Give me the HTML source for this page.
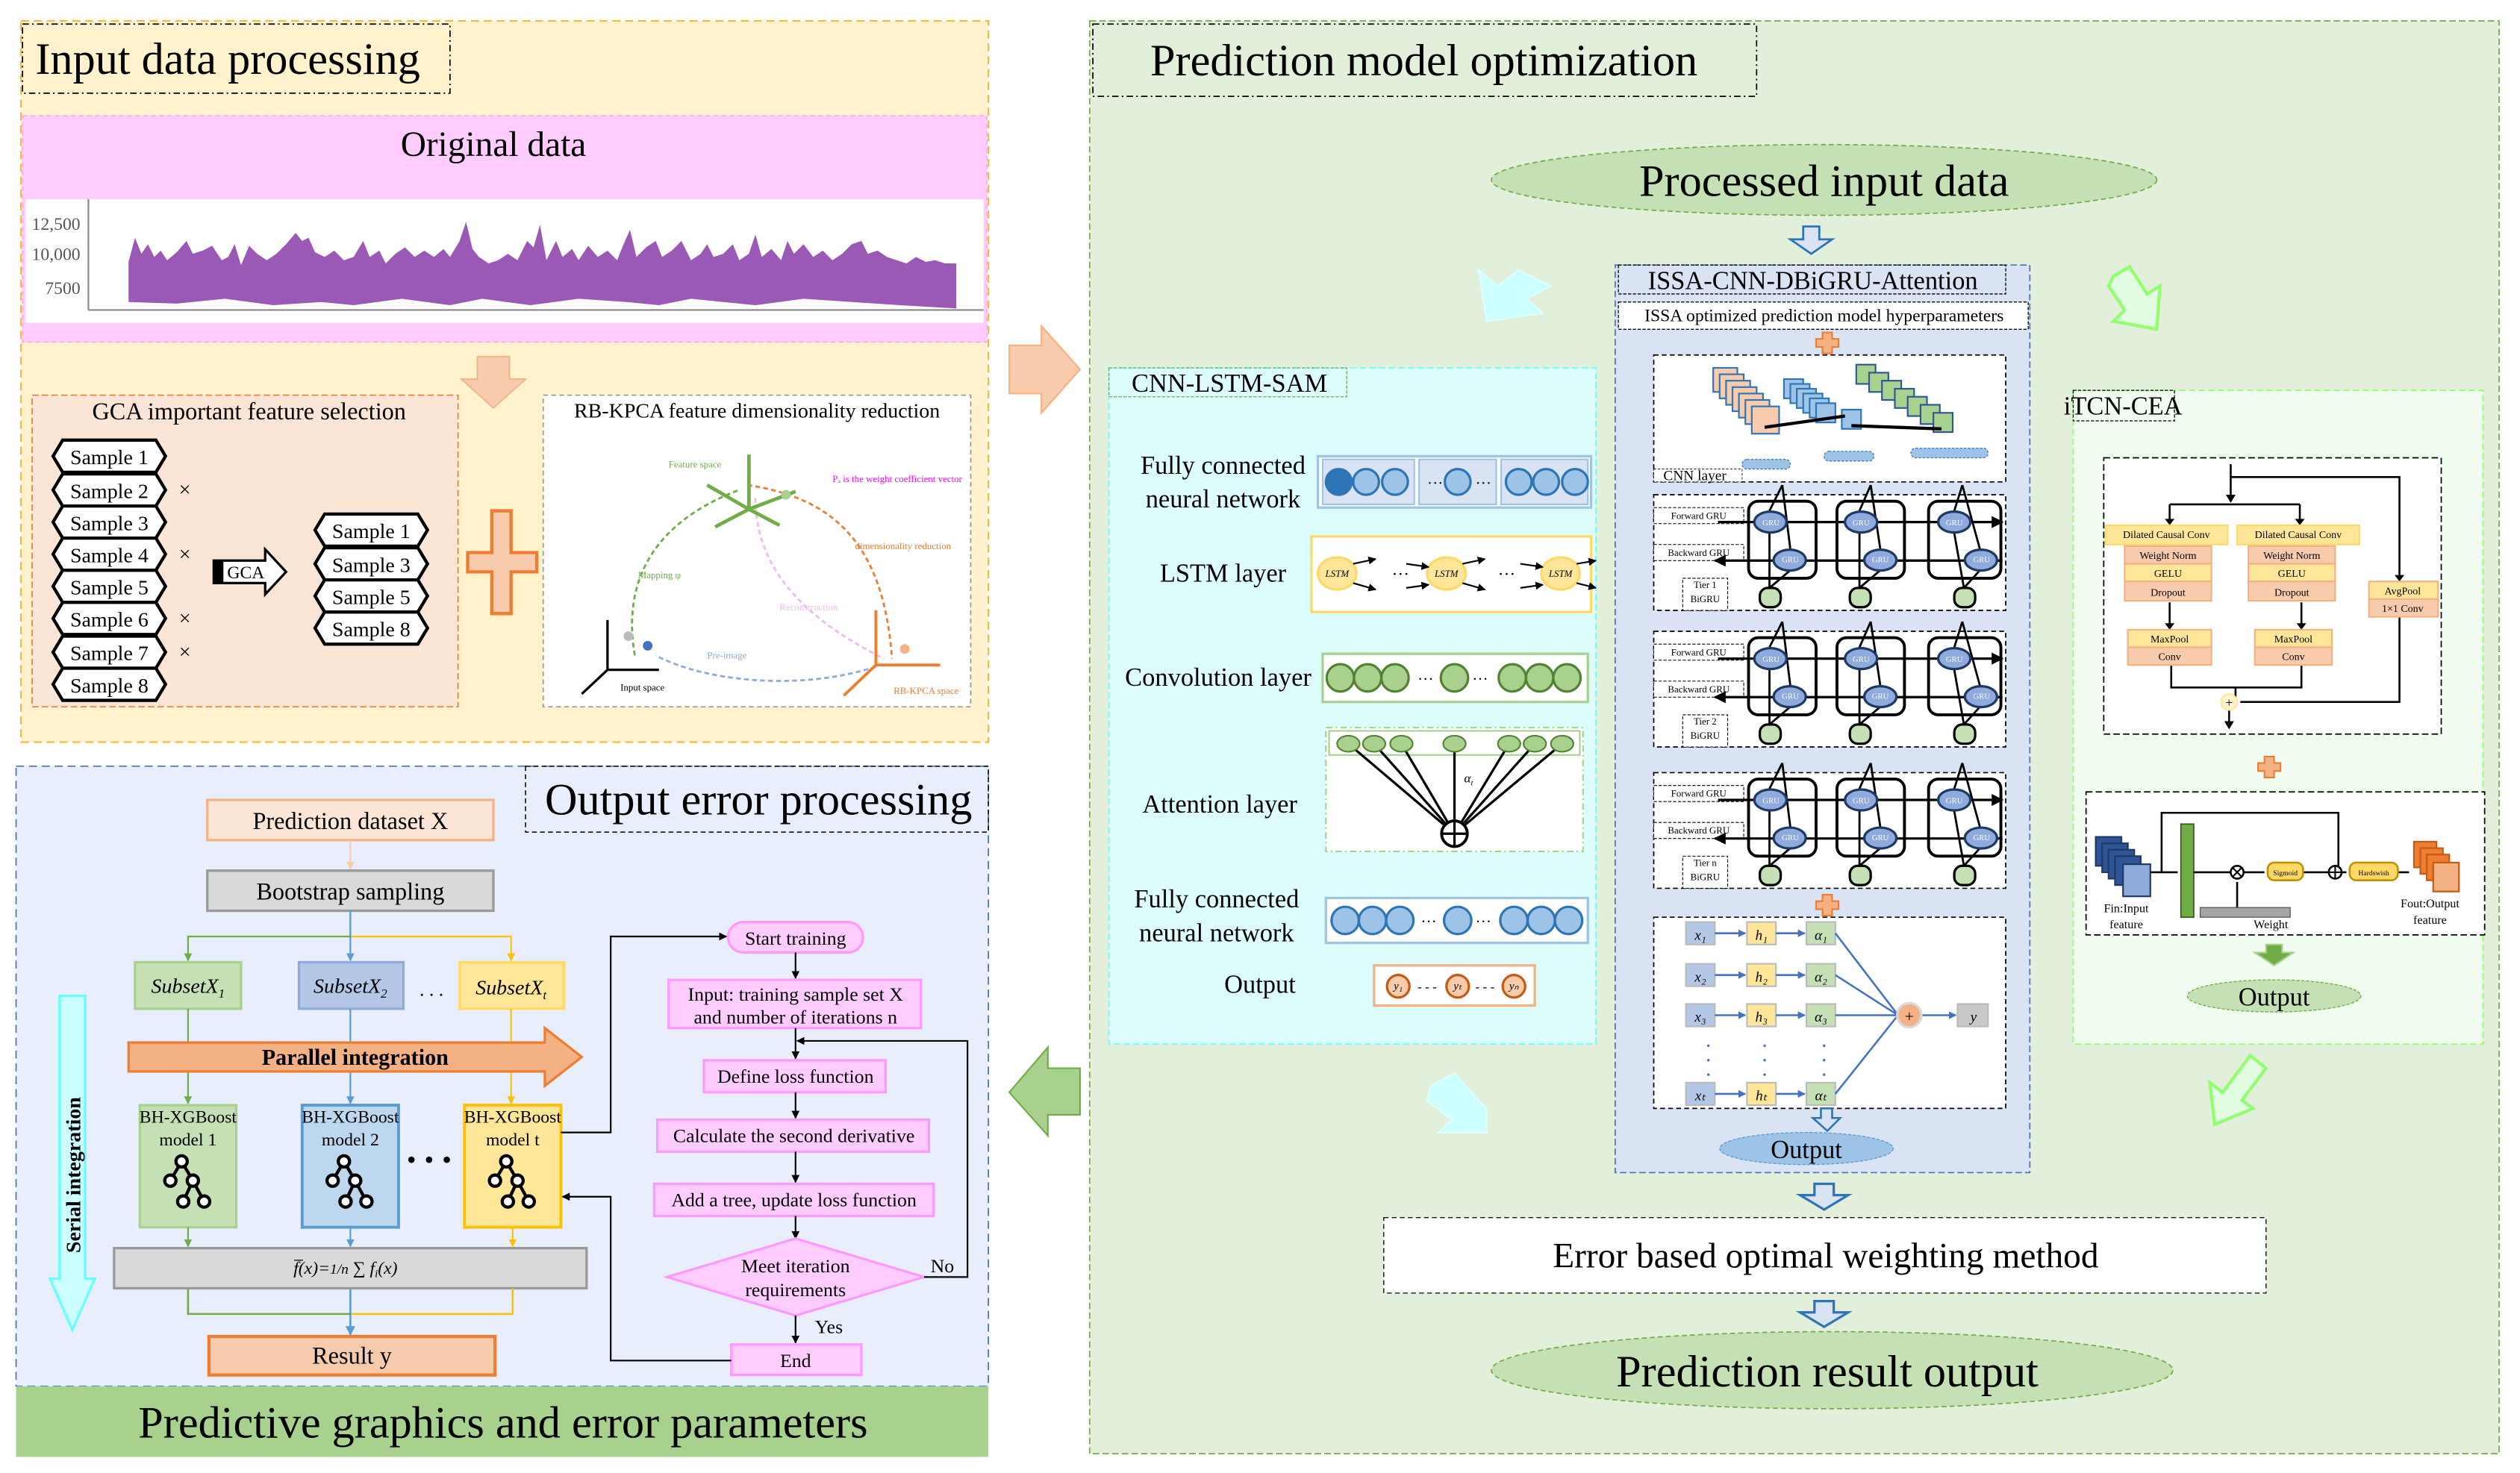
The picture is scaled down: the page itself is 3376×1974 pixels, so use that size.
<!DOCTYPE html>
<html><head><meta charset="utf-8"><style>
html,body{margin:0;padding:0;background:#fff;}
svg{display:block;}
text{font-family:"Liberation Serif",serif;}
</style></head><body>
<svg xmlns="http://www.w3.org/2000/svg" width="3376" height="1974" viewBox="0 0 1568 917" preserveAspectRatio="none">
<defs>
<marker id="ak" viewBox="0 0 10 10" refX="9" refY="5" markerWidth="5" markerHeight="5" orient="auto"><path d="M0,0L10,5L0,10z" fill="#000"/></marker>
<marker id="ag" viewBox="0 0 10 10" refX="9" refY="5" markerWidth="5" markerHeight="5" orient="auto"><path d="M0,0L10,5L0,10z" fill="#70ad47"/></marker>
<marker id="ab" viewBox="0 0 10 10" refX="9" refY="5" markerWidth="5" markerHeight="5" orient="auto"><path d="M0,0L10,5L0,10z" fill="#5b9bd5"/></marker>
<marker id="ay" viewBox="0 0 10 10" refX="9" refY="5" markerWidth="5" markerHeight="5" orient="auto"><path d="M0,0L10,5L0,10z" fill="#ffc000"/></marker>
<marker id="ao" viewBox="0 0 10 10" refX="9" refY="5" markerWidth="5" markerHeight="5" orient="auto"><path d="M0,0L10,5L0,10z" fill="#f8cbad"/></marker>
<marker id="ab2" viewBox="0 0 10 10" refX="9" refY="5" markerWidth="4" markerHeight="4" orient="auto"><path d="M0,0L10,5L0,10z" fill="#4472c4"/></marker>
<g id="tier">
<rect x="0" y="0" width="219" height="72" fill="#fff" stroke="#000" stroke-width="0.8" stroke-dasharray="3,2"/>
<rect x="0" y="8" width="56" height="10" fill="#fff" stroke="#000" stroke-width="0.5" stroke-dasharray="2,1"/>
<rect x="0" y="31" width="56" height="10" fill="#fff" stroke="#000" stroke-width="0.5" stroke-dasharray="2,1"/>
<rect x="18" y="52" width="28" height="20" fill="#fff" stroke="#000" stroke-width="0.5" stroke-dasharray="2,1"/>
<rect x="59" y="4" width="42" height="48" rx="6" fill="none" stroke="#000" stroke-width="1.8"/>
<rect x="114" y="4" width="42" height="48" rx="6" fill="none" stroke="#000" stroke-width="1.8"/>
<rect x="171" y="4" width="45" height="48" rx="6" fill="none" stroke="#000" stroke-width="1.8"/>
<line x1="40" y1="17" x2="217" y2="17" stroke="#000" stroke-width="1.5" marker-end="url(#ak)"/>
<line x1="217" y1="41" x2="38" y2="41" stroke="#000" stroke-width="1.5" marker-end="url(#ak)"/>
<path d="M80,-6L72,10M80,-6L85,34M72,24L72,58M85,47L72,58M135,-6L128,10M135,-6L141,34M128,24L128,58M141,47L128,58M192,-6L187,10M192,-6L203,34M187,24L193,58M203,47L193,58" stroke="#000" stroke-width="1.3" fill="none"/>
<ellipse cx="72.6" cy="17" rx="10" ry="6.5" fill="#8faadc" stroke="#1f3864" stroke-width="1.5"/>
<ellipse cx="84.6" cy="40.7" rx="10" ry="6.5" fill="#8faadc" stroke="#1f3864" stroke-width="1.5"/>
<ellipse cx="129" cy="17" rx="10" ry="6.5" fill="#8faadc" stroke="#1f3864" stroke-width="1.5"/>
<ellipse cx="141" cy="40.7" rx="10" ry="6.5" fill="#8faadc" stroke="#1f3864" stroke-width="1.5"/>
<ellipse cx="187" cy="17" rx="10" ry="6.5" fill="#8faadc" stroke="#1f3864" stroke-width="1.5"/>
<ellipse cx="203.6" cy="40.7" rx="10" ry="6.5" fill="#8faadc" stroke="#1f3864" stroke-width="1.5"/>
<rect x="66" y="58" width="13" height="12" rx="5" fill="#c5e0b4" stroke="#000" stroke-width="1.5"/>
<rect x="122" y="58" width="13" height="12" rx="5" fill="#c5e0b4" stroke="#000" stroke-width="1.5"/>
<rect x="187" y="58" width="13" height="12" rx="5" fill="#c5e0b4" stroke="#000" stroke-width="1.5"/>
</g>
</defs>

<!-- ================= INPUT DATA PROCESSING ================= -->
<rect x="13" y="13" width="602" height="449" fill="#fff2cc" stroke="#f5b942" stroke-width="1" stroke-dasharray="5,3"/>
<rect x="14" y="15" width="266" height="43" fill="none" stroke="#000" stroke-width="0.8" stroke-dasharray="4,2,1,2"/>
<text x="22" y="46" font-size="28">Input data processing</text>
<rect x="14" y="72" width="600" height="141" fill="#ffccff" stroke="#ff99ff" stroke-width="0.6" stroke-dasharray="3,2"/>
<text x="307" y="97" font-size="22" text-anchor="middle">Original data</text>
<rect x="16" y="124" width="596" height="77" fill="#fff"/>
<line x1="55" y1="124" x2="55" y2="193" stroke="#888" stroke-width="1"/>
<line x1="55" y1="193" x2="612" y2="193" stroke="#888" stroke-width="1"/>
<text x="50" y="143" font-size="11" text-anchor="end" fill="#555" font-family="Liberation Sans">12,500</text>
<text x="50" y="162" font-size="11" text-anchor="end" fill="#555" font-family="Liberation Sans">10,000</text>
<text x="50" y="183" font-size="11" text-anchor="end" fill="#555" font-family="Liberation Sans">7500</text>
<polygon fill="#9b59b6" points="80,163 84,148 88,158 92,152 96,160 100,156 104,162 110,157 116,150 120,158 126,156 132,153 138,162 142,160 146,152 150,165 155,153 160,158 166,162 172,158 178,152 184,145 188,150 192,148 196,157 202,160 208,156 214,162 220,160 226,150 230,160 236,156 240,164 246,158 252,154 258,160 264,156 270,160 276,155 280,160 286,150 290,138 294,155 298,160 304,164 310,162 316,158 322,162 328,150 332,154 336,140 340,162 346,150 350,160 356,155 360,162 366,153 372,160 378,156 384,162 388,152 392,143 396,160 402,154 408,150 412,160 418,156 424,150 430,162 436,158 440,152 444,160 450,158 456,152 460,162 466,158 470,146 474,160 480,155 486,162 490,150 494,158 500,152 506,160 512,156 518,162 524,158 530,152 536,150 540,158 546,156 552,160 558,162 564,164 570,160 576,163 582,162 588,164 595,164 595,192 560,190 530,188 500,186 470,190 450,188 430,186 410,190 390,188 360,186 330,190 300,186 280,190 250,186 220,190 200,188 170,190 140,186 110,189 80,188"/>
<!-- down arrow -->
<polygon points="297,222 317,222 317,236 327,236 307,254 287,236 297,236" fill="#f8cbad" stroke="#f4b183" stroke-width="0.8"/>
<!-- GCA box -->
<rect x="20" y="246" width="265" height="194" fill="#fbe5d6" stroke="#ed7d31" stroke-width="0.8" stroke-dasharray="4,2"/>
<text x="155" y="261" font-size="15" text-anchor="middle">GCA important feature selection</text>
<g stroke="#000" stroke-width="2" fill="#fff">
<polygon points="39,274 97,274 103,284 97,294 39,294 33,284"/>
<polygon points="39,295 97,295 103,305 97,315 39,315 33,305"/>
<polygon points="39,315 97,315 103,325 97,335 39,335 33,325"/>
<polygon points="39,335 97,335 103,345 97,355 39,355 33,345"/>
<polygon points="39,355 97,355 103,365 97,375 39,375 33,365"/>
<polygon points="39,375 97,375 103,385 97,395 39,395 33,385"/>
<polygon points="39,396 97,396 103,406 97,416 39,416 33,406"/>
<polygon points="39,416 97,416 103,426 97,436 39,436 33,426"/>
<polygon points="202,320 260,320 266,330 260,340 202,340 196,330"/>
<polygon points="202,341 260,341 266,351 260,361 202,361 196,351"/>
<polygon points="202,361 260,361 266,371 260,381 202,381 196,371"/>
<polygon points="202,381 260,381 266,391 260,401 202,401 196,391"/>
</g>
<g font-size="13" text-anchor="middle">
<text x="68" y="289">Sample 1</text><text x="68" y="310">Sample 2</text><text x="68" y="330">Sample 3</text><text x="68" y="350">Sample 4</text>
<text x="68" y="370">Sample 5</text><text x="68" y="390">Sample 6</text><text x="68" y="411">Sample 7</text><text x="68" y="431">Sample 8</text>
<text x="231" y="335">Sample 1</text><text x="231" y="356">Sample 3</text><text x="231" y="376">Sample 5</text><text x="231" y="396">Sample 8</text>
<text x="115" y="309">×</text><text x="115" y="349">×</text><text x="115" y="389">×</text><text x="115" y="410">×</text>
</g>
<polygon points="133,349 165,349 165,342 178,356 165,370 165,363 133,363" fill="#fff" stroke="#000" stroke-width="1.5"/>
<rect x="133" y="349" width="6" height="14" fill="#000"/>
<text x="153" y="360" font-size="11" text-anchor="middle" font-family="Liberation Sans">GCA</text>
<!-- orange plus -->
<path d="M306,318H318V344H334V356H318V382H306V356H291V344H306Z" fill="#f8cbad" stroke="#ed7d31" stroke-width="2"/>
<!-- RB-KPCA -->
<rect x="338" y="246" width="266" height="194" fill="#fff" stroke="#999" stroke-width="0.8" stroke-dasharray="3,2"/>
<text x="471" y="260" font-size="13" text-anchor="middle">RB-KPCA feature dimensionality reduction</text>
<g fill="none" stroke-width="1.3">
<path d="M395,408 C385,350 420,320 460,305" stroke="#70ad47" stroke-dasharray="3,2"/>
<path d="M465,302 C520,310 550,340 555,410" stroke="#ed7d31" stroke-dasharray="3,2"/>
<path d="M470,310 C470,360 510,390 550,410" stroke="#f4b8f4" stroke-dasharray="3,2"/>
<path d="M545,415 C500,430 440,425 408,408" stroke="#8faadc" stroke-dasharray="3,2"/>
</g>
<g stroke="#70ad47" stroke-width="2.2"><line x1="466" y1="317" x2="466" y2="283"/><line x1="466" y1="317" x2="440" y2="302"/><line x1="466" y1="317" x2="495" y2="306"/><line x1="466" y1="317" x2="445" y2="328"/><line x1="466" y1="317" x2="485" y2="327"/></g>
<g stroke="#ed7d31" stroke-width="1.8"><line x1="545" y1="414" x2="545" y2="380"/><line x1="545" y1="414" x2="585" y2="414"/><line x1="545" y1="414" x2="525" y2="433"/></g>
<g stroke="#000" stroke-width="1.5"><line x1="378" y1="417" x2="378" y2="386"/><line x1="378" y1="417" x2="410" y2="417"/><line x1="378" y1="417" x2="362" y2="432"/></g>
<circle cx="391" cy="396" r="3" fill="#bbb"/><circle cx="403" cy="402" r="3" fill="#4472c4"/><circle cx="489" cy="308" r="3" fill="#a9d18e"/><circle cx="563" cy="404" r="3" fill="#f4b183"/>
<g font-size="6">
<text x="416" y="291" fill="#70ad47">Feature space</text><text x="518" y="300" fill="#ff00ff">Pₐ is the weight coefficient vector</text>
<text x="397" y="360" fill="#70ad47">Mapping φ</text><text x="532" y="342" fill="#ed7d31">dimensionality reduction</text>
<text x="485" y="380" fill="#f4b8f4">Reconstruction</text><text x="440" y="410" fill="#8faadc">Pre-image</text>
<text x="386" y="430">Input space</text><text x="556" y="432" fill="#ed7d31">RB-KPCA space</text>
</g>

<!-- ================= OUTPUT ERROR PROCESSING ================= -->
<rect x="10" y="477" width="605" height="386" fill="#e8eefc" stroke="#4472c4" stroke-width="0.8" stroke-dasharray="5,3"/>
<rect x="327" y="477" width="288" height="41" fill="none" stroke="#000" stroke-width="0.7" stroke-dasharray="3,2"/>
<text x="472" y="507" font-size="28" text-anchor="middle">Output error processing</text>
<rect x="10" y="863" width="605" height="44" fill="#a9d18e"/>
<text x="313" y="895" font-size="28" text-anchor="middle">Predictive graphics and error parameters</text>

<rect x="129" y="498" width="178" height="25" fill="#fbe5d6" stroke="#f4b183" stroke-width="1.5"/>
<text x="218" y="516" font-size="15" text-anchor="middle">Prediction dataset X</text>
<line x1="218" y1="523" x2="218" y2="541" stroke="#f8cbad" stroke-width="1" marker-end="url(#ao)"/>
<rect x="129" y="542" width="178" height="25" fill="#d9d9d9" stroke="#999" stroke-width="1.5"/>
<text x="218" y="560" font-size="15" text-anchor="middle">Bootstrap sampling</text>
<path d="M218,567V583M218,583H117V598" stroke="#70ad47" stroke-width="1" fill="none" marker-end="url(#ag)"/>
<path d="M218,583H318V598" stroke="#ffc000" stroke-width="1" fill="none" marker-end="url(#ay)"/>
<line x1="218" y1="567" x2="218" y2="598" stroke="#5b9bd5" stroke-width="1" marker-end="url(#ab)"/>
<rect x="84" y="599" width="66" height="29" fill="#c5e0b4" stroke="#a9d18e" stroke-width="1.5"/>
<rect x="186" y="599" width="65" height="29" fill="#b4c7e7" stroke="#8faadc" stroke-width="1.5"/>
<rect x="286" y="599" width="65" height="29" fill="#ffe699" stroke="#ffd966" stroke-width="1.5"/>
<g font-size="13" text-anchor="middle" font-style="italic"><text x="117" y="618">SubsetX<tspan font-size="8" dy="3">1</tspan></text><text x="218" y="618">SubsetX<tspan font-size="8" dy="3">2</tspan></text><text x="318" y="619">SubsetX<tspan font-size="8" dy="3">t</tspan></text></g>
<text x="261" y="620" font-size="12">. . .</text>
<line x1="117" y1="628" x2="117" y2="687" stroke="#70ad47" stroke-width="1" marker-end="url(#ag)"/>
<line x1="218" y1="628" x2="218" y2="687" stroke="#5b9bd5" stroke-width="1" marker-end="url(#ab)"/>
<line x1="318" y1="628" x2="318" y2="687" stroke="#ffc000" stroke-width="1" marker-end="url(#ay)"/>
<polygon points="80,649 339,649 339,640 362,658 339,676 339,667 80,667" fill="#f4b183" stroke="#ed7d31" stroke-width="1.5"/>
<text x="221" y="663" font-size="14" font-weight="bold" text-anchor="middle">Parallel integration</text>
<rect x="87" y="688" width="60" height="76" fill="#c5e0b4" stroke="#a9d18e" stroke-width="1.5"/>
<rect x="188" y="688" width="60" height="76" fill="#bdd7ee" stroke="#5b9bd5" stroke-width="1.8"/>
<rect x="289" y="688" width="60" height="76" fill="#ffe699" stroke="#ffc000" stroke-width="1.8"/>
<g font-size="11" text-anchor="middle"><text x="117" y="699">BH-XGBoost</text><text x="117" y="713">model 1</text><text x="218" y="699">BH-XGBoost</text><text x="218" y="713">model 2</text><text x="319" y="699">BH-XGBoost</text><text x="319" y="713">model t</text></g>
<g fill="#fff" stroke="#000" stroke-width="2">
<g transform="translate(117,738)"><line x1="-4" y1="-15" x2="-11" y2="-3" /><line x1="-4" y1="-15" x2="3" y2="-3"/><line x1="3" y1="-3" x2="-3" y2="10"/><line x1="3" y1="-3" x2="10" y2="10"/><circle cx="-4" cy="-15" r="3.5"/><circle cx="-11" cy="-3" r="3.5"/><circle cx="3" cy="-3" r="3.5"/><circle cx="-3" cy="10" r="3.5"/><circle cx="10" cy="10" r="3.5"/></g>
<g transform="translate(218,738)"><line x1="-4" y1="-15" x2="-11" y2="-3" /><line x1="-4" y1="-15" x2="3" y2="-3"/><line x1="3" y1="-3" x2="-3" y2="10"/><line x1="3" y1="-3" x2="10" y2="10"/><circle cx="-4" cy="-15" r="3.5"/><circle cx="-11" cy="-3" r="3.5"/><circle cx="3" cy="-3" r="3.5"/><circle cx="-3" cy="10" r="3.5"/><circle cx="10" cy="10" r="3.5"/></g>
<g transform="translate(319,738)"><line x1="-4" y1="-15" x2="-11" y2="-3" /><line x1="-4" y1="-15" x2="3" y2="-3"/><line x1="3" y1="-3" x2="-3" y2="10"/><line x1="3" y1="-3" x2="10" y2="10"/><circle cx="-4" cy="-15" r="3.5"/><circle cx="-11" cy="-3" r="3.5"/><circle cx="3" cy="-3" r="3.5"/><circle cx="-3" cy="10" r="3.5"/><circle cx="10" cy="10" r="3.5"/></g>
</g>
<g fill="#000"><circle cx="256" cy="722" r="2"/><circle cx="267" cy="722" r="2"/><circle cx="278" cy="722" r="2"/></g>
<line x1="117" y1="764" x2="117" y2="776" stroke="#70ad47" stroke-width="1" marker-end="url(#ag)"/>
<line x1="218" y1="764" x2="218" y2="776" stroke="#5b9bd5" stroke-width="1" marker-end="url(#ab)"/>
<line x1="319" y1="764" x2="319" y2="776" stroke="#ffc000" stroke-width="1" marker-end="url(#ay)"/>
<rect x="71" y="777" width="294" height="25" fill="#d9d9d9" stroke="#999" stroke-width="1.5"/>
<text x="215" y="793" font-size="11" text-anchor="middle" font-style="italic">f̅(x)=<tspan font-size="9">1/n</tspan> ∑ f<tspan font-size="7" dy="2">i</tspan><tspan dy="-2">(x)</tspan></text>
<path d="M117,802V818H218" stroke="#70ad47" stroke-width="1.2" fill="none"/>
<path d="M319,802V818H218" stroke="#ffc000" stroke-width="1.2" fill="none"/>
<line x1="218" y1="802" x2="218" y2="831" stroke="#5b9bd5" stroke-width="1.2" marker-end="url(#ab)"/>
<rect x="130" y="832" width="178" height="24" fill="#f8cbad" stroke="#ed7d31" stroke-width="2"/>
<text x="219" y="849" font-size="15" text-anchor="middle">Result y</text>
<!-- serial arrow -->
<polygon points="37,620 53,620 53,796 59,796 45,828 31,796 37,796" fill="#ccffff" stroke="#66ffff" stroke-width="1.5"/>
<text transform="translate(50,780) rotate(-90)" font-size="13" font-weight="bold">Serial integration</text>
<!-- flowchart -->
<rect x="453" y="574" width="84" height="19" rx="9.5" fill="#ffccff" stroke="#ff99ff" stroke-width="1.5"/>
<text x="495" y="588" font-size="12" text-anchor="middle">Start training</text>
<line x1="495" y1="593" x2="495" y2="609" stroke="#000" stroke-width="1" marker-end="url(#ak)"/>
<rect x="416" y="610" width="157" height="30" fill="#ffccff" stroke="#ff99ff" stroke-width="1.5"/>
<text x="495" y="623" font-size="12" text-anchor="middle">Input: training sample set X</text>
<text x="495" y="637" font-size="12" text-anchor="middle">and number of iterations n</text>
<line x1="495" y1="640" x2="495" y2="659" stroke="#000" stroke-width="1" marker-end="url(#ak)"/>
<rect x="438" y="660" width="113" height="20" fill="#ffccff" stroke="#ff99ff" stroke-width="1.5"/>
<text x="495" y="674" font-size="12" text-anchor="middle">Define loss function</text>
<line x1="495" y1="680" x2="495" y2="696" stroke="#000" stroke-width="1" marker-end="url(#ak)"/>
<rect x="409" y="697" width="169" height="20" fill="#ffccff" stroke="#ff99ff" stroke-width="1.5"/>
<text x="494" y="711" font-size="12" text-anchor="middle">Calculate the second derivative</text>
<line x1="495" y1="717" x2="495" y2="736" stroke="#000" stroke-width="1" marker-end="url(#ak)"/>
<rect x="407" y="737" width="174" height="20" fill="#ffccff" stroke="#ff99ff" stroke-width="1.5"/>
<text x="494" y="751" font-size="12" text-anchor="middle">Add a tree, update loss function</text>
<line x1="495" y1="757" x2="495" y2="771" stroke="#000" stroke-width="1" marker-end="url(#ak)"/>
<polygon points="495,771 575,795 495,819 415,795" fill="#ffccff" stroke="#ff99ff" stroke-width="1.5"/>
<text x="495" y="792" font-size="12" text-anchor="middle">Meet iteration</text>
<text x="495" y="807" font-size="12" text-anchor="middle">requirements</text>
<line x1="495" y1="819" x2="495" y2="836" stroke="#000" stroke-width="1" marker-end="url(#ak)"/>
<text x="507" y="830" font-size="12">Yes</text>
<rect x="455" y="837" width="81" height="19" fill="#ffccff" stroke="#ff99ff" stroke-width="1.5"/>
<text x="495" y="851" font-size="12" text-anchor="middle">End</text>
<path d="M575,795H602V648H496" stroke="#000" stroke-width="1" fill="none" marker-end="url(#ak)"/>
<text x="579" y="792" font-size="12">No</text>
<path d="M349,705H380V583H452" stroke="#000" stroke-width="1" fill="none" marker-end="url(#ak)"/>
<path d="M455,847H380V745H350" stroke="#000" stroke-width="1" fill="none" marker-end="url(#ak)"/>

<!-- connector arrows between panels -->
<polygon points="628,215 648,215 648,203 672,230 648,257 648,245 628,245" fill="#f8cbad" stroke="#f4b183" stroke-width="1"/>
<polygon points="672,665 652,665 652,652 628,680 652,707 652,694 672,694" fill="#a9d18e" stroke="#70ad47" stroke-width="1"/>

<!-- ================= PREDICTION MODEL OPTIMIZATION ================= -->
<rect x="678" y="13" width="877" height="892" fill="#e2efda" stroke="#70ad47" stroke-width="0.8" stroke-dasharray="4,2"/>
<rect x="680" y="15" width="413" height="45" fill="none" stroke="#000" stroke-width="0.8" stroke-dasharray="4,2,1,2"/>
<text x="886" y="47" font-size="28" text-anchor="middle">Prediction model optimization</text>
<ellipse cx="1135" cy="112" rx="207" ry="22" fill="#c5e0b4" stroke="#70ad47" stroke-width="0.8" stroke-dasharray="3,2"/>
<text x="1135" y="122" font-size="28" text-anchor="middle">Processed input data</text>
<polygon points="1122,141 1132,141 1132,149 1140,149 1127,158 1114,149 1122,149" fill="#dae3f3" stroke="#2e75b6" stroke-width="1.3"/>
<!-- cyan arrows -->
<polygon points="965,178 950,186 960,195 925,200 920,168 932,178 945,168" fill="#ccffff" stroke="#ddffff" stroke-width="1"/>
<polygon points="890,676 905,668 920,685 925,690 925,705 895,705 903,697 888,685" fill="#ccffff" stroke="#ddffff" stroke-width="1"/>
<!-- green outline arrows -->
<polygon points="1315,172 1325,166 1336,183 1344,178 1342,205 1315,200 1322,193 1312,178" fill="#e2fce2" stroke="#92ff70" stroke-width="2"/>
<polygon points="1400,657 1410,665 1395,685 1402,690 1378,700 1375,674 1383,680 1398,660" fill="#e2fce2" stroke="#92ff70" stroke-width="2"/>

<!-- CNN-LSTM-SAM -->
<rect x="690" y="229" width="303" height="421" fill="#dcfdfc" stroke="#66ffff" stroke-width="0.8" stroke-dasharray="4,2"/>
<rect x="690" y="229" width="148" height="18" fill="none" stroke="#70ad47" stroke-width="0.6" stroke-dasharray="2,1"/>
<text x="765" y="244" font-size="16" text-anchor="middle">CNN-LSTM-SAM</text>
<g font-size="16" text-anchor="middle">
<text x="761" y="295">Fully connected</text><text x="761" y="316">neural network</text>
<text x="761" y="362">LSTM layer</text>
<text x="758" y="427">Convolution layer</text>
<text x="759" y="506">Attention layer</text>
<text x="757" y="565">Fully connected</text><text x="757" y="586">neural network</text>
<text x="784" y="618">Output</text>
</g>
<rect x="820" y="284" width="170" height="32" fill="#fff" stroke="#9dc3e6" stroke-width="1.5"/>
<rect x="823" y="286" width="57" height="28" fill="#dae3f3" stroke="#9dc3e6" stroke-width="1"/>
<rect x="883" y="286" width="48" height="28" fill="#dae3f3" stroke="#9dc3e6" stroke-width="1"/>
<rect x="934" y="286" width="54" height="28" fill="#dae3f3" stroke="#9dc3e6" stroke-width="1"/>
<g stroke="#2e75b6" stroke-width="1.5" fill="#9dc3e6">
<circle cx="833" cy="300" r="8" fill="#2e75b6"/><circle cx="850" cy="300" r="8"/><circle cx="868" cy="300" r="8"/><circle cx="907" cy="300" r="8"/><circle cx="945" cy="300" r="8"/><circle cx="962" cy="300" r="8"/><circle cx="980" cy="300" r="8"/>
</g>
<text x="888" y="304" font-size="10">···</text><text x="918" y="304" font-size="10">···</text>
<rect x="816" y="334" width="174" height="47" fill="#fff" stroke="#ffd966" stroke-width="1.5"/>
<g fill="#ffe699" stroke="#ffd966" stroke-width="1.5"><ellipse cx="832" cy="357" rx="12" ry="10"/><ellipse cx="900" cy="357" rx="12" ry="10"/><ellipse cx="971" cy="357" rx="12" ry="10"/></g>
<g font-size="6" font-style="italic" text-anchor="middle"><text x="832" y="359">LSTM</text><text x="900" y="359">LSTM</text><text x="971" y="359">LSTM</text></g>
<g stroke="#000" stroke-width="1" marker-end="url(#ak)"><line x1="842" y1="351" x2="856" y2="348"/><line x1="842" y1="363" x2="856" y2="367"/><line x1="875" y1="351" x2="889" y2="353"/><line x1="875" y1="366" x2="889" y2="364"/><line x1="910" y1="351" x2="924" y2="348"/><line x1="910" y1="363" x2="924" y2="367"/><line x1="946" y1="351" x2="960" y2="353"/><line x1="946" y1="366" x2="960" y2="364"/><line x1="981" y1="351" x2="993" y2="349"/><line x1="981" y1="363" x2="993" y2="366"/></g>
<text x="866" y="361" font-size="11">···</text><text x="932" y="361" font-size="11">···</text>
<rect x="823" y="407" width="165" height="30" fill="#fff" stroke="#a9d18e" stroke-width="1.5"/>
<g stroke="#548235" stroke-width="1.5" fill="#a9d18e">
<circle cx="834" cy="422" r="8.5"/><circle cx="851" cy="422" r="8.5"/><circle cx="868" cy="422" r="8.5"/><circle cx="905" cy="422" r="8.5"/><circle cx="941" cy="422" r="8.5"/><circle cx="958" cy="422" r="8.5"/><circle cx="975" cy="422" r="8.5"/>
</g>
<text x="882" y="426" font-size="10">···</text><text x="916" y="426" font-size="10">···</text>
<rect x="825" y="453" width="160" height="77" fill="#fff" stroke="#a9d18e" stroke-width="1" stroke-dasharray="4,2,1,2"/>
<rect x="827" y="455" width="156" height="15" fill="#fff" stroke="#a9d18e" stroke-width="1"/>
<g stroke="#000" stroke-width="1.5"><line x1="839" y1="463" x2="905" y2="519"/><line x1="855" y1="463" x2="905" y2="519"/><line x1="872" y1="463" x2="905" y2="519"/><line x1="905" y1="463" x2="905" y2="519"/><line x1="939" y1="463" x2="905" y2="519"/><line x1="955" y1="463" x2="905" y2="519"/><line x1="972" y1="463" x2="905" y2="519"/></g>
<g stroke="#548235" stroke-width="1" fill="#a9d18e"><ellipse cx="839" cy="463" rx="7" ry="5"/><ellipse cx="855" cy="463" rx="7" ry="5"/><ellipse cx="872" cy="463" rx="7" ry="5"/><ellipse cx="905" cy="463" rx="7" ry="5"/><ellipse cx="939" cy="463" rx="7" ry="5"/><ellipse cx="955" cy="463" rx="7" ry="5"/><ellipse cx="972" cy="463" rx="7" ry="5"/></g>
<circle cx="905" cy="519" r="8" fill="#fff" stroke="#000" stroke-width="1.8"/><path d="M897,519H913M905,511V527" stroke="#000" stroke-width="1.5"/>
<text x="911" y="487" font-size="8" font-style="italic">α<tspan font-size="5" dy="2">t</tspan></text>
<rect x="825" y="559" width="163" height="28" fill="#fff" stroke="#9dc3e6" stroke-width="1.5"/>
<g stroke="#2e75b6" stroke-width="1.5" fill="#9dc3e6"><circle cx="837" cy="573" r="8.5"/><circle cx="854" cy="573" r="8.5"/><circle cx="871" cy="573" r="8.5"/><circle cx="907" cy="573" r="8.5"/><circle cx="942" cy="573" r="8.5"/><circle cx="959" cy="573" r="8.5"/><circle cx="976" cy="573" r="8.5"/></g>
<text x="884" y="577" font-size="10">···</text><text x="918" y="577" font-size="10">···</text>
<rect x="855" y="601" width="100" height="25" fill="#fff" stroke="#f4b183" stroke-width="1.5"/>
<g stroke="#c55a11" stroke-width="1.5" fill="#f8cbad"><ellipse cx="870" cy="614" rx="7" ry="7"/><ellipse cx="907" cy="614" rx="7" ry="7"/><ellipse cx="942" cy="614" rx="7" ry="7"/></g>
<g font-size="7" font-style="italic" text-anchor="middle"><text x="870" y="616">y₁</text><text x="907" y="616">yₜ</text><text x="942" y="616">yₙ</text></g>
<text x="882" y="617" font-size="8">- - -</text><text x="918" y="617" font-size="8">- - -</text>

<!-- ISSA-CNN-DBiGRU-Attention -->
<rect x="1005" y="165" width="258" height="565" fill="#dae3f3" stroke="#4472c4" stroke-width="0.8" stroke-dasharray="4,2"/>
<rect x="1007" y="165" width="241" height="18" fill="none" stroke="#000" stroke-width="0.6" stroke-dasharray="2,1"/>
<text x="1128" y="180" font-size="16" text-anchor="middle">ISSA-CNN-DBiGRU-Attention</text>
<rect x="1007" y="188" width="255" height="17" fill="#fff" stroke="#000" stroke-width="0.6" stroke-dasharray="2,1"/>
<text x="1135" y="200" font-size="11" text-anchor="middle">ISSA optimized prediction model hyperparameters</text>
<path d="M1134,207H1140V211H1144V216H1140V220H1134V216H1130V211H1134Z" fill="#f4b183" stroke="#ed7d31" stroke-width="1"/>
<rect x="1029" y="221" width="219" height="79" fill="#fff" stroke="#000" stroke-width="0.8" stroke-dasharray="3,2"/>
<g stroke="#2e75b6" stroke-width="1" fill="#9dc3e6"><rect x="1066" y="229" width="15" height="15" fill="#f8cbad"/><rect x="1070" y="233" width="15" height="15" fill="#f8cbad"/><rect x="1074" y="237" width="15" height="15" fill="#f8cbad"/><rect x="1078" y="241" width="15" height="15" fill="#f8cbad"/><rect x="1082" y="245" width="15" height="15" fill="#f8cbad"/><rect x="1086" y="249" width="15" height="15" fill="#f8cbad"/><rect x="1090" y="253" width="17" height="17" fill="#f8cbad"/>
<rect x="1110" y="236" width="12" height="12"/><rect x="1114" y="239" width="12" height="12"/><rect x="1118" y="242" width="12" height="12"/><rect x="1122" y="245" width="12" height="12"/><rect x="1126" y="248" width="12" height="12"/><rect x="1130" y="251" width="12" height="12"/><rect x="1146" y="255" width="12" height="12"/>
<g stroke="#2f5597"><rect x="1155" y="227" width="12" height="12" fill="#a9d18e"/><rect x="1163" y="232" width="12" height="12" fill="#a9d18e"/><rect x="1171" y="237" width="12" height="12" fill="#a9d18e"/><rect x="1179" y="242" width="12" height="12" fill="#a9d18e"/><rect x="1187" y="247" width="12" height="12" fill="#a9d18e"/><rect x="1195" y="252" width="12" height="12" fill="#a9d18e"/><rect x="1203" y="257" width="12" height="12" fill="#a9d18e"/></g>
</g>
<path d="M1098,266L1148,259M1152,265L1208,267" stroke="#000" stroke-width="2"/>
<g fill="#9dc3e6" stroke="#4472c4" stroke-width="0.6" stroke-dasharray="1.5,1"><rect x="1084" y="286" width="30" height="6" rx="3"/><rect x="1135" y="281" width="31" height="6" rx="3"/><rect x="1189" y="279" width="48" height="6" rx="3"/></g>
<rect x="1029" y="292" width="55" height="8" fill="#fff" stroke="#000" stroke-width="0.4" stroke-dasharray="1.5,1"/>
<text x="1035" y="299" font-size="9">CNN layer</text>

<use href="#tier" x="1029" y="308"/>
<use href="#tier" x="1029" y="393"/>
<use href="#tier" x="1029" y="481"/>
<g font-size="6" text-anchor="middle">
<text x="1057" y="323">Forward GRU</text><text x="1057" y="346">Backward GRU</text><text x="1061" y="366">Tier 1</text><text x="1061" y="375">BiGRU</text>
<text x="1057" y="408">Forward GRU</text><text x="1057" y="431">Backward GRU</text><text x="1061" y="451">Tier 2</text><text x="1061" y="460">BiGRU</text>
<text x="1057" y="496">Forward GRU</text><text x="1057" y="519">Backward GRU</text><text x="1061" y="539">Tier n</text><text x="1061" y="548">BiGRU</text>
</g>
<g font-size="5" text-anchor="middle" fill="#fff">
<text x="1102" y="327">GRU</text><text x="1114" y="350">GRU</text><text x="1158" y="327">GRU</text><text x="1170" y="350">GRU</text><text x="1216" y="327">GRU</text><text x="1233" y="350">GRU</text>
<text x="1102" y="412">GRU</text><text x="1114" y="435">GRU</text><text x="1158" y="412">GRU</text><text x="1170" y="435">GRU</text><text x="1216" y="412">GRU</text><text x="1233" y="435">GRU</text>
<text x="1102" y="500">GRU</text><text x="1114" y="523">GRU</text><text x="1158" y="500">GRU</text><text x="1170" y="523">GRU</text><text x="1216" y="500">GRU</text><text x="1233" y="523">GRU</text>
</g>
<path d="M1134,557H1140V561H1144V566H1140V570H1134V566H1130V561H1134Z" fill="#f4b183" stroke="#ed7d31" stroke-width="1"/>
<rect x="1029" y="571" width="219" height="119" fill="#fff" stroke="#000" stroke-width="0.8" stroke-dasharray="3,2"/>
<g stroke="#bbb" stroke-width="1">
<rect x="1049" y="574" width="18" height="14" fill="#b4c7e7"/><rect x="1087" y="574" width="18" height="14" fill="#ffe699"/><rect x="1124" y="574" width="18" height="14" fill="#c5e0b4"/>
<rect x="1049" y="600" width="18" height="14" fill="#b4c7e7"/><rect x="1087" y="600" width="18" height="14" fill="#ffe699"/><rect x="1124" y="600" width="18" height="14" fill="#c5e0b4"/>
<rect x="1049" y="625" width="18" height="14" fill="#b4c7e7"/><rect x="1087" y="625" width="18" height="14" fill="#ffe699"/><rect x="1124" y="625" width="18" height="14" fill="#c5e0b4"/>
<rect x="1049" y="674" width="18" height="14" fill="#b4c7e7"/><rect x="1087" y="674" width="18" height="14" fill="#ffe699"/><rect x="1124" y="674" width="18" height="14" fill="#c5e0b4"/>
<rect x="1218" y="625" width="19" height="14" fill="#c9c9c9"/>
</g>
<g stroke="#4472c4" stroke-width="1.2" marker-end="url(#ab2)">
<line x1="1067" y1="581" x2="1086" y2="581"/><line x1="1105" y1="581" x2="1123" y2="581"/>
<line x1="1067" y1="607" x2="1086" y2="607"/><line x1="1105" y1="607" x2="1123" y2="607"/>
<line x1="1067" y1="632" x2="1086" y2="632"/><line x1="1105" y1="632" x2="1123" y2="632"/>
<line x1="1067" y1="681" x2="1086" y2="681"/><line x1="1105" y1="681" x2="1123" y2="681"/>
<line x1="1196" y1="632" x2="1217" y2="632"/>
</g>
<g stroke="#4472c4" stroke-width="1.2"><line x1="1142" y1="581" x2="1181" y2="632"/><line x1="1142" y1="607" x2="1181" y2="632"/><line x1="1142" y1="632" x2="1181" y2="632"/><line x1="1142" y1="681" x2="1181" y2="632"/></g>
<circle cx="1188" cy="632" r="7.5" fill="#f4b183" stroke="#d9d9d9" stroke-width="1.5"/>
<text x="1188" y="636" font-size="10" text-anchor="middle">+</text>
<g font-size="9" font-style="italic" text-anchor="middle">
<text x="1058" y="585">x₁</text><text x="1096" y="585">h₁</text><text x="1133" y="585">α₁</text>
<text x="1058" y="611">x₂</text><text x="1096" y="611">h₂</text><text x="1133" y="611">α₂</text>
<text x="1058" y="636">x₃</text><text x="1096" y="636">h₃</text><text x="1133" y="636">α₃</text>
<text x="1058" y="685">xₜ</text><text x="1096" y="685">hₜ</text><text x="1133" y="685">αₜ</text>
<text x="1228" y="636">y</text>
</g>
<g fill="#4472c4"><circle cx="1063" cy="651" r="0.8"/><circle cx="1063" cy="660" r="0.8"/><circle cx="1063" cy="669" r="0.8"/><circle cx="1098" cy="651" r="0.8"/><circle cx="1098" cy="660" r="0.8"/><circle cx="1098" cy="669" r="0.8"/><circle cx="1135" cy="651" r="0.8"/><circle cx="1135" cy="660" r="0.8"/><circle cx="1135" cy="669" r="0.8"/></g>
<polygon points="1133,690 1140,690 1140,696 1145,696 1137,704 1128,696 1133,696" fill="#dae3f3" stroke="#2e75b6" stroke-width="1.2"/>
<ellipse cx="1124" cy="715" rx="54" ry="10" fill="#9dc3e6" stroke="#5b9bd5" stroke-width="0.6" stroke-dasharray="2,1"/>
<text x="1124" y="721" font-size="16" text-anchor="middle">Output</text>

<polygon points="1129,737 1141,737 1141,744 1150,744 1135,753 1120,744 1129,744" fill="#dae3f3" stroke="#2e75b6" stroke-width="1.5"/>
<rect x="861" y="758" width="549" height="47" fill="#fff" stroke="#000" stroke-width="0.6" stroke-dasharray="3,2"/>
<text x="1136" y="789" font-size="22" text-anchor="middle">Error based optimal weighting method</text>
<polygon points="1129,810 1141,810 1141,817 1150,817 1135,826 1120,817 1129,817" fill="#dae3f3" stroke="#2e75b6" stroke-width="1.5"/>
<ellipse cx="1140" cy="853" rx="212" ry="24" fill="#c5e0b4" stroke="#70ad47" stroke-width="0.8" stroke-dasharray="3,2"/>
<text x="1137" y="863" font-size="28" text-anchor="middle">Prediction result output</text>

<!-- iTCN-CEA -->
<rect x="1290" y="243" width="255" height="407" fill="#effcef" stroke="#92ff70" stroke-width="0.8" stroke-dasharray="4,2"/>
<rect x="1290" y="243" width="63" height="19" fill="none" stroke="#000" stroke-width="0.6" stroke-dasharray="2,1"/>
<text x="1321" y="258" font-size="16" text-anchor="middle">iTCN-CEA</text>
<rect x="1309" y="285" width="210" height="172" fill="#fff" stroke="#000" stroke-width="0.8" stroke-dasharray="4,2"/>
<g stroke="#000" stroke-width="1.2" fill="none">
<path d="M1388,289V310M1350,314H1431M1350,314V326M1431,314V326M1388,297H1493V361M1350,375V391M1432,375V391M1351,414V428H1432V414M1391,428V434M1493,384V437H1394M1387,441V452"/>
</g>
<g fill="#000"><path d="M1385,308L1391,308L1388,313Z"/><path d="M1347,323L1353,323L1350,327Z"/><path d="M1428,323L1434,323L1431,327Z"/><path d="M1490,358L1496,358L1493,362Z"/><path d="M1347,388L1353,388L1350,392Z"/><path d="M1429,388L1435,388L1432,392Z"/><path d="M1384,449L1390,449L1387,454Z"/></g>
<g stroke="#f4b183" stroke-width="1"><rect x="1310" y="327" width="76" height="12" fill="#ffe699" stroke="#ffd966"/><rect x="1322" y="340" width="54" height="11" fill="#f8cbad"/><rect x="1322" y="351" width="54" height="11" fill="#ffe699"/><rect x="1322" y="362" width="54" height="12" fill="#f8cbad"/>
<rect x="1392" y="327" width="76" height="12" fill="#ffe699" stroke="#ffd966"/><rect x="1399" y="340" width="54" height="11" fill="#f8cbad"/><rect x="1399" y="351" width="54" height="11" fill="#ffe699"/><rect x="1399" y="362" width="54" height="12" fill="#f8cbad"/>
<rect x="1324" y="392" width="52" height="11" fill="#ffe699"/><rect x="1324" y="403" width="52" height="11" fill="#f8cbad"/>
<rect x="1403" y="392" width="48" height="11" fill="#ffe699"/><rect x="1403" y="403" width="48" height="11" fill="#f8cbad"/>
<rect x="1474" y="362" width="43" height="11" fill="#ffe699"/><rect x="1474" y="373" width="43" height="11" fill="#f8cbad"/></g>
<g font-size="6.5" text-anchor="middle">
<text x="1348" y="335">Dilated Causal Conv</text><text x="1349" y="348">Weight Norm</text><text x="1349" y="359">GELU</text><text x="1349" y="371">Dropout</text>
<text x="1430" y="335">Dilated Causal Conv</text><text x="1426" y="348">Weight Norm</text><text x="1426" y="359">GELU</text><text x="1426" y="371">Dropout</text>
<text x="1350" y="400">MaxPool</text><text x="1350" y="411">Conv</text><text x="1427" y="400">MaxPool</text><text x="1427" y="411">Conv</text>
<text x="1495" y="370">AvgPool</text><text x="1495" y="381">1×1 Conv</text>
</g>
<circle cx="1387" cy="437" r="5" fill="#fff2cc" stroke="#ffe699" stroke-width="1"/><text x="1387" y="440" font-size="8" text-anchor="middle">+</text>
<path d="M1409,471H1415V475H1419V480H1415V484H1409V480H1405V475H1409Z" fill="#f4b183" stroke="#ed7d31" stroke-width="1"/>
<rect x="1298" y="493" width="248" height="89" fill="#fff" stroke="#000" stroke-width="0.8" stroke-dasharray="4,2"/>
<g stroke="#1f3864" stroke-width="1" fill="#2f5597"><rect x="1304" y="521" width="16" height="18"/><rect x="1308" y="525" width="16" height="18"/><rect x="1312" y="529" width="16" height="18"/><rect x="1316" y="533" width="16" height="18"/><rect x="1321" y="538" width="17" height="20" fill="#8faadc"/></g>
<g stroke="#c55a11" stroke-width="1" fill="#ed7d31"><rect x="1502" y="524" width="14" height="16"/><rect x="1506" y="528" width="14" height="16"/><rect x="1510" y="532" width="14" height="16"/><rect x="1514" y="537" width="16" height="18" fill="#f4b183"/></g>
<rect x="1357" y="513" width="8" height="58" fill="#70ad47" stroke="#38571a" stroke-width="0.8"/>
<g stroke="#000" stroke-width="1.2" fill="none"><path d="M1338,543H1355M1345,543V506H1455V540M1365,543H1389M1395,543H1409M1433,543H1449M1456,543H1460M1492,543H1499M1392,566V549"/></g>
<circle cx="1392" cy="543" r="4" fill="#fff" stroke="#000" stroke-width="1.2"/><path d="M1389,540L1395,546M1395,540L1389,546" stroke="#000" stroke-width="1"/>
<circle cx="1453" cy="543" r="4" fill="#fff" stroke="#000" stroke-width="1.2"/><path d="M1449,543H1457M1453,539V547" stroke="#000" stroke-width="1"/>
<rect x="1411" y="537" width="22" height="11" rx="4" fill="#ffd966" stroke="#bf9000" stroke-width="1.2"/><text x="1422" y="545" font-size="4.5" text-anchor="middle">Sigmoid</text>
<rect x="1462" y="537" width="30" height="11" rx="4" fill="#ffd966" stroke="#bf9000" stroke-width="1.2"/><text x="1477" y="545" font-size="4.5" text-anchor="middle">Hardswish</text>
<rect x="1369" y="565" width="56" height="6" fill="#a6a6a6" stroke="#555" stroke-width="0.6"/>
<g font-size="7.5" text-anchor="middle"><text x="1323" y="568">Fin:Input</text><text x="1323" y="578">feature</text><text x="1413" y="578">Weight</text><text x="1512" y="565">Fout:Output</text><text x="1512" y="575">feature</text></g>
<polygon points="1410,588 1420,588 1420,593 1427,593 1415,601 1403,593 1410,593" fill="#70ad47" stroke="#a9d18e" stroke-width="1"/>
<ellipse cx="1415" cy="620" rx="54" ry="10" fill="#c5e0b4" stroke="#70ad47" stroke-width="0.6" stroke-dasharray="2,1"/>
<text x="1415" y="626" font-size="16" text-anchor="middle">Output</text>
</svg>
</body></html>
